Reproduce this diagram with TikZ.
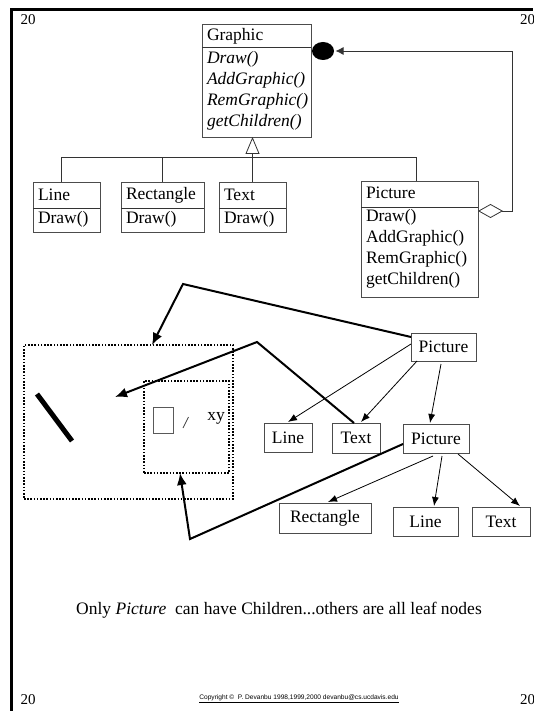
\documentclass[tikz,border=0pt]{standalone}
\usepackage{fontspec}
\setmainfont{Liberation Serif}
\newfontfamily\copyfont{Liberation Sans}
\usetikzlibrary{arrows.meta,shapes.geometric}
\begin{document}
\begin{tikzpicture}[x=1pt,y=-1pt,
  every node/.style={inner sep=0pt,outer sep=0pt,font=\fontsize{17.5}{21}\selectfont},
  classbox/.style={draw=black!70,line width=0.9pt,anchor=north west},
  member/.style={anchor=west},
  treebox/.style={draw=black!70,line width=0.9pt,anchor=north west},
  thinline/.style={draw=black!80,line width=0.8pt},
  thinarrow/.style={black,line width=0.8pt,-{Latex[length=9pt,width=7pt]}},
  thickarrow/.style={black,line width=2pt,-{Latex[length=12pt,width=10pt]}},
  dotbox/.style={draw=black,line width=1.6pt,dash pattern=on 1.6pt off 1.6pt,anchor=north west},
  pagenum/.style={font=\fontsize{15}{18}\selectfont}
]
\useasboundingbox (0,0) rectangle (533,711);
\clip (0,0) rectangle (533,711);

% slide frame
\draw[line width=3pt] (11.5,711) -- (11.5,9.5) -- (533,9.5);

% page numbers and footer
\node[pagenum] (n1) at (28,20) {20};
\node[pagenum,anchor=west] (n2) at (520,20) {20};
\node[pagenum] (n3) at (28,700) {20};
\node[pagenum,anchor=west] (n4) at (520,700) {20};
\node[font=\copyfont\fontsize{6.6}{8}\selectfont] (copy) at (299,699)
  {\underline{Copyright \textcopyright{}\ \ P. Devanbu 1998,1999,2000 devanbu@cs.ucdavis.edu}};

% ---------- class diagram ----------
\node[classbox,minimum width=109pt,minimum height=113pt] (graphic) at (202,24) {};
\draw[thinline] (202,47) -- (311,47);
\node[member] (g0) at (207,36) {Graphic};
\node[member] (g1) at (207,59) {\textit{Draw()}};
\node[member] (g2) at (207,80) {\textit{AddGraphic()}};
\node[member] (g3) at (207,101) {\textit{RemGraphic()}};
\node[member] (g4) at (207,122) {\textit{getChildren()}};

\node[classbox,minimum width=67pt,minimum height=50pt] (cline) at (33,182) {};
\draw[thinline] (33,208) -- (100,208);
\node[member] (l0) at (38,195) {Line};
\node[member] (l1) at (38,219) {Draw()};

\node[classbox,minimum width=83pt,minimum height=50pt] (crect) at (121,182) {};
\draw[thinline] (121,208) -- (204,208);
\node[member] (r0) at (126,195) {Rectangle};
\node[member] (r1) at (126,219) {Draw()};

\node[classbox,minimum width=67pt,minimum height=50pt] (ctext) at (219,182) {};
\draw[thinline] (219,208) -- (286,208);
\node[member] (t0) at (224,195) {Text};
\node[member] (t1) at (224,219) {Draw()};

\node[classbox,minimum width=117pt,minimum height=116pt] (cpic) at (361,181) {};
\draw[thinline] (361,207) -- (478,207);
\node[member] (p0) at (366,193) {Picture};
\node[member] (p1) at (366,217) {Draw()};
\node[member] (p2) at (366,238) {AddGraphic()};
\node[member] (p3) at (366,259) {RemGraphic()};
\node[member] (p4) at (366,280) {getChildren()};

% generalisation
\draw[thinline,-{Triangle[open,length=17pt,width=14pt]}] (ctext.north) -- (ctext.north |- graphic.south);
\draw[thinline] ([xshift=28pt]cline.north west) -- ++(0,-25) -| ([xshift=55pt]cpic.north west);
\draw[thinline] (crect.north) -- ++(0,-25);

% aggregation of children
\node[ellipse,fill=black,minimum width=22pt,minimum height=18pt] (agg) at (323,51) {};
\draw[thinline,{Diamond[open,length=25pt,width=14pt]}-{Latex[length=8pt,width=8pt]}]
  ([yshift=-30pt]cpic.north east) -- (512,211) -- (512,51) -- ([xshift=1.5pt]agg.east);

% ---------- object view ----------
\node[dotbox,minimum width=209pt,minimum height=154pt] (outer) at (24,345) {};
\node[dotbox,minimum width=85pt,minimum height=92pt] (inner) at (144,381) {};
\draw[line width=5pt] (37,394) -- (72,441);
\node[draw=black!65,line width=0.9pt,anchor=north west,minimum width=20pt,minimum height=26pt] (sq) at (153,407) {};
\draw[black!75,line width=0.8pt] (183,428) -- (188.5,417);
\node (xy) at (216,418) {xy};
\coordinate (lineobj) at (115,397);

% ---------- object tree ----------
\node[treebox,minimum width=65pt,minimum height=28pt] (root) at (411,333) {Picture};
\node[treebox,minimum width=48pt,minimum height=29pt] (tline) at (264,423) {Line};
\node[treebox,minimum width=48pt,minimum height=30pt] (ttext) at (332,423) {Text};
\node[treebox,minimum width=66pt,minimum height=29pt] (pic2) at (403,424) {Picture};
\node[treebox,minimum width=92pt,minimum height=30pt] (rect2) at (279,503) {Rectangle};
\node[treebox,minimum width=65pt,minimum height=29pt] (line2) at (393,507) {Line};
\node[treebox,minimum width=58pt,minimum height=29pt] (text2) at (472,507) {Text};

\draw[thinarrow] ([yshift=-11pt]root.north west) -- ([xshift=24pt,yshift=1pt]tline.north west);
\draw[thinarrow] ([xshift=6pt]root.south west) -- ([xshift=29pt,yshift=1pt]ttext.north west);
\draw[thinarrow] ([xshift=30pt,yshift=-3pt]root.south west) -- ([xshift=27pt,yshift=1pt]pic2.north west);
\draw[thinarrow] ([xshift=30pt,yshift=-3pt]pic2.south west) -- ([xshift=49pt,yshift=1pt]rect2.north west);
\draw[thinarrow] ([xshift=39pt,yshift=-3pt]pic2.south west) -- ([xshift=41pt,yshift=1pt]line2.north west);
\draw[thinarrow] ([xshift=55pt,yshift=-1pt]pic2.south west) -- ([xshift=48pt,yshift=1pt]text2.north west);

% mapping from tree nodes to the drawn objects
\draw[thickarrow] ([yshift=-4pt]root.north west) -- (183,284) -- ([xshift=128pt]outer.north west);
\draw[thickarrow] ([xshift=22pt]ttext.north west) -- (257,342) -- (lineobj);
\draw[thickarrow] ([yshift=-20pt]pic2.north west) -- (190,539) -- ([xshift=36pt]inner.south west);

% caption
\node (caption) at (279,610) {Only \textit{Picture}\ \ can have Children...others are all leaf nodes};
\end{tikzpicture}
\end{document}
